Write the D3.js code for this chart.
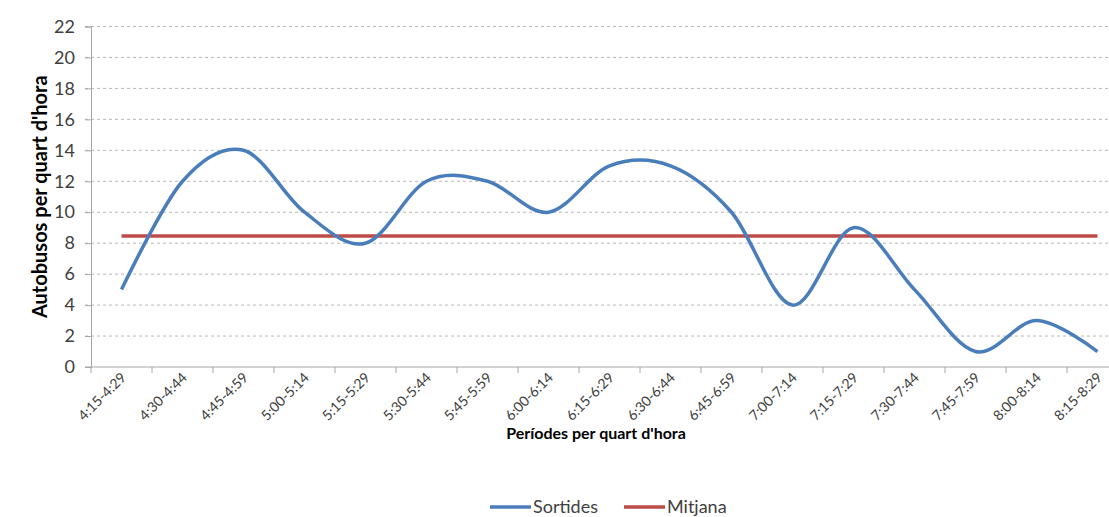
<!DOCTYPE html>
<html><head><meta charset="utf-8">
<script src="https://cdn.jsdelivr.net/npm/d3@7"></script>
<style>
html,body{margin:0;padding:0;background:#fff;}
svg{display:block;font-family:Lato,"Noto Sans",sans-serif;}
</style></head>
<body>
<svg id="chart" width="1109" height="517"></svg>
<script>
const categories = ["4:15-4:29","4:30-4:44","4:45-4:59","5:00-5:14","5:15-5:29","5:30-5:44","5:45-5:59","6:00-6:14","6:15-6:29","6:30-6:44","6:45-6:59","7:00-7:14","7:15-7:29","7:30-7:44","7:45-7:59","8:00-8:14","8:15-8:29"];
const sortides = [5,12,14,10,8,12,12,10,13,13,10,4,9,5,1,3,1];
const mitjanaValue = 8.47;
const mitjana = categories.map(() => mitjanaValue);
const yTicks = [0,2,4,6,8,10,12,14,16,18,20,22];
const seriesNames = ["Sortides","Mitjana"];
const seriesColors = ["#4a7ebb","#be4b48"];

(function(){
const svg = d3.select("#chart");
const mLeft = 91, mTop = 26.5, mBottom = 367, step = 61;
const x = d3.scaleBand().domain(categories).range([mLeft, mLeft + step*categories.length]).padding(0);
const cx = c => x(c) + x.bandwidth()/2;
const y = d3.scaleLinear().domain([0,22]).range([mBottom, mTop]);

// gridlines
svg.append("g").selectAll("line").data(yTicks.filter(d => d > 0)).join("line")
  .attr("x1", mLeft - 6).attr("x2", 1109)
  .attr("y1", d => y(d)).attr("y2", d => y(d))
  .attr("stroke", "#b8b8b8").attr("stroke-width", 1).attr("stroke-dasharray", "3,3");

// y axis
const yAxis = svg.append("g").attr("transform", `translate(${mLeft},0)`)
  .call(d3.axisLeft(y).tickValues(yTicks).tickSize(6).tickPadding(10));
yAxis.select(".domain").attr("stroke", "#a6a6a6");
yAxis.selectAll(".tick line").attr("stroke", "#a6a6a6");
yAxis.selectAll(".tick text").attr("font-size", 18).attr("fill", "#404040").attr("font-family", "Lato,sans-serif");

// x axis
const boundaries = categories.map(c => x(c)).concat([x(categories[categories.length-1]) + x.bandwidth()]);
svg.append("line").attr("x1", mLeft - 6).attr("x2", boundaries[boundaries.length-1])
  .attr("y1", mBottom).attr("y2", mBottom).attr("stroke", "#a6a6a6");
svg.append("g").selectAll("line").data(boundaries).join("line")
  .attr("x1", d => d).attr("x2", d => d).attr("y1", mBottom).attr("y2", mBottom + 6)
  .attr("stroke", "#a6a6a6");
svg.append("g").selectAll("text").data(categories).join("text")
  .attr("transform", c => `translate(${cx(c) + 2},${mBottom + 8}) rotate(-45)`)
  .attr("text-anchor", "end").attr("dy", "0.35em")
  .attr("font-size", 14).attr("fill", "#404040")
  .text(c => c);

// axis titles
svg.append("text").attr("transform", `translate(40,${(mTop+mBottom)/2 + 0}) rotate(-90)`)
  .attr("text-anchor", "middle").attr("font-weight", "bold").attr("font-size", 20).attr("fill", "#000")
  .attr("dy", "0.35em")
  .text("Autobusos per quart d'hora");
svg.append("text").attr("x", 596).attr("y", 439)
  .attr("text-anchor", "middle").attr("font-weight", "bold").attr("font-size", 16).attr("fill", "#000")
  .text("Períodes per quart d'hora");

// lines
const line = d3.line().x((d,i) => cx(categories[i])).y(d => y(d));
svg.append("path").datum(mitjana).attr("d", line)
  .attr("fill", "none").attr("stroke", seriesColors[1]).attr("stroke-width", 3.5);
svg.append("path").datum(sortides).attr("d", line.curve(d3.curveCatmullRom.alpha(0)))
  .attr("fill", "none").attr("stroke", seriesColors[0]).attr("stroke-width", 3.5).attr("stroke-linejoin", "round");

// legend
const legend = svg.append("g");
const lx = [490, 624];
seriesNames.forEach((n, i) => {
  legend.append("line").attr("x1", lx[i]).attr("x2", lx[i] + 41).attr("y1", 507).attr("y2", 507)
    .attr("stroke", seriesColors[i]).attr("stroke-width", 3.5);
  legend.append("text").attr("x", lx[i] + 43).attr("y", 507).attr("dy", "0.35em")
    .attr("font-size", 18).attr("fill", "#404040").text(n);
});
})();
</script>
</body></html>
